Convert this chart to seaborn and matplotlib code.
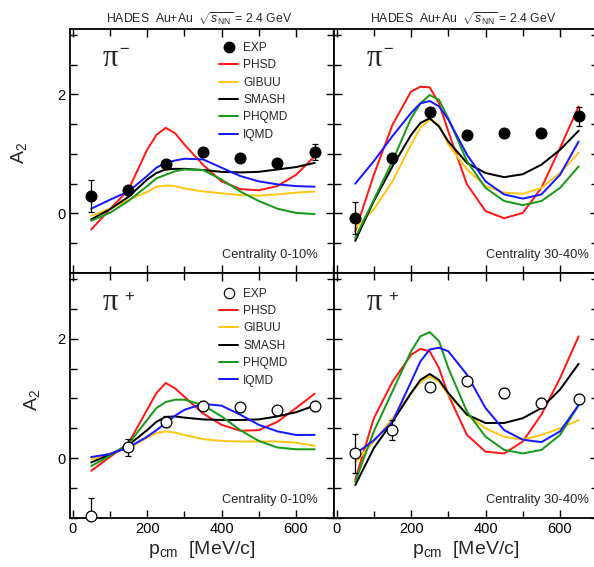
import matplotlib
matplotlib.use("Agg")
import matplotlib.pyplot as plt
from matplotlib.ticker import MultipleLocator
from matplotlib.lines import Line2D
import seaborn as sns
import pandas as pd

# ---------------- data ----------------
models = ["PHSD", "GIBUU", "SMASH", "PHQMD", "IQMD"]
colors = ["#ff1a1a", "#ffc61a", "#000000", "#1a9a1a", "#1a1aff"]

x_model = [50, 100, 150, 200, 225, 250, 275, 300, 350, 400, 450, 500, 550, 600, 650]
x_exp = [50, 150, 250, 350, 450, 550, 650]

# pi-, centrality 0-10%
pim010_PHSD = [-0.27, 0.07, 0.40, 1.07, 1.32, 1.44, 1.35, 1.16, 0.82, 0.54, 0.41, 0.39, 0.46, 0.65, 0.96]
pim010_GIBUU = [-0.04, 0.08, 0.23, 0.36, 0.45, 0.47, 0.46, 0.42, 0.37, 0.34, 0.31, 0.30, 0.32, 0.35, 0.37]
pim010_SMASH = [-0.10, 0.07, 0.28, 0.57, 0.68, 0.74, 0.75, 0.75, 0.73, 0.70, 0.69, 0.70, 0.74, 0.78, 0.85]
pim010_PHQMD = [-0.12, 0.01, 0.21, 0.46, 0.59, 0.65, 0.71, 0.74, 0.73, 0.57, 0.37, 0.21, 0.08, 0.01, -0.01]
pim010_IQMD = [0.08, 0.23, 0.37, 0.63, 0.77, 0.85, 0.89, 0.92, 0.91, 0.77, 0.63, 0.54, 0.49, 0.46, 0.45]
pim010_exp = [0.30, 0.39, 0.83, 1.03, 0.93, 0.85, 1.03]
pim010_err = [0.27, 0.07, 0.05, 0.06, 0.05, 0.05, 0.13]

# pi-, centrality 30-40%
pim3040_PHSD = [-0.30, 0.65, 1.49, 2.05, 2.13, 2.12, 1.85, 1.38, 0.49, 0.04, -0.08, 0.01, 0.43, 1.10, 1.80]
pim3040_GIBUU = [-0.24, 0.07, 0.54, 1.16, 1.44, 1.58, 1.49, 1.16, 0.74, 0.46, 0.35, 0.33, 0.43, 0.68, 1.02]
pim3040_SMASH = [-0.46, 0.21, 0.79, 1.32, 1.52, 1.60, 1.46, 1.21, 0.85, 0.68, 0.61, 0.66, 0.82, 1.07, 1.39]
pim3040_PHQMD = [-0.41, 0.23, 0.88, 1.60, 1.85, 1.99, 1.91, 1.60, 0.88, 0.43, 0.21, 0.14, 0.21, 0.43, 0.79]
pim3040_IQMD = [0.50, 0.88, 1.30, 1.69, 1.85, 1.89, 1.80, 1.58, 0.99, 0.54, 0.32, 0.25, 0.32, 0.65, 1.21]
pim3040_exp = [-0.07, 0.94, 1.70, 1.32, 1.35, 1.35, 1.63]
pim3040_err = [0.27, 0.07, 0.05, 0.06, 0.06, 0.06, 0.16]

# pi+, centrality 0-10%
pip010_PHSD = [-0.21, 0.02, 0.25, 0.81, 1.09, 1.26, 1.17, 1.03, 0.75, 0.56, 0.46, 0.47, 0.61, 0.84, 1.08]
pip010_GIBUU = [-0.02, 0.08, 0.17, 0.34, 0.42, 0.45, 0.43, 0.39, 0.32, 0.29, 0.28, 0.28, 0.28, 0.26, 0.21]
pip010_SMASH = [-0.07, 0.06, 0.22, 0.47, 0.61, 0.69, 0.70, 0.68, 0.65, 0.64, 0.64, 0.65, 0.70, 0.77, 0.88]
pip010_PHQMD = [-0.13, 0.04, 0.24, 0.64, 0.84, 0.94, 0.98, 0.98, 0.89, 0.70, 0.47, 0.29, 0.18, 0.15, 0.15]
pip010_IQMD = [0.02, 0.07, 0.18, 0.36, 0.47, 0.59, 0.71, 0.81, 0.91, 0.88, 0.73, 0.56, 0.45, 0.39, 0.39]
pip010_exp = [-0.96, 0.18, 0.61, 0.87, 0.85, 0.80, 0.87]
pip010_err = [0.29, 0.15, 0.09, 0.08, 0.08, 0.07, 0.08]

# pi+, centrality 30-40%
pip3040_PHSD = [-0.36, 0.67, 1.28, 1.73, 1.83, 1.79, 1.51, 1.06, 0.39, 0.11, 0.08, 0.28, 0.73, 1.34, 2.04]
pip3040_GIBUU = [-0.07, 0.28, 0.67, 1.09, 1.27, 1.37, 1.28, 1.06, 0.73, 0.50, 0.36, 0.31, 0.39, 0.50, 0.64]
pip3040_SMASH = [-0.45, 0.17, 0.61, 1.09, 1.31, 1.41, 1.31, 1.09, 0.73, 0.59, 0.59, 0.67, 0.84, 1.15, 1.58]
pip3040_PHQMD = [-0.39, 0.45, 1.12, 1.79, 2.04, 2.11, 1.96, 1.51, 0.78, 0.36, 0.14, 0.08, 0.14, 0.39, 0.89]
pip3040_IQMD = [0.07, 0.30, 0.61, 1.28, 1.62, 1.82, 1.85, 1.79, 1.40, 0.84, 0.47, 0.31, 0.27, 0.45, 0.89]
pip3040_exp = [0.08, 0.47, 1.20, 1.30, 1.09, 0.92, 0.99]
pip3040_err = [0.33, 0.17, 0.07, 0.08, 0.08, 0.08, 0.08]

panels = [
    dict(curves=[pim010_PHSD, pim010_GIBUU, pim010_SMASH, pim010_PHQMD, pim010_IQMD],
         exp=pim010_exp, err=pim010_err, charge="\u2212", cent="Centrality 0-10%", filled=True),
    dict(curves=[pim3040_PHSD, pim3040_GIBUU, pim3040_SMASH, pim3040_PHQMD, pim3040_IQMD],
         exp=pim3040_exp, err=pim3040_err, charge="\u2212", cent="Centrality 30-40%", filled=True),
    dict(curves=[pip010_PHSD, pip010_GIBUU, pip010_SMASH, pip010_PHQMD, pip010_IQMD],
         exp=pip010_exp, err=pip010_err, charge="+", cent="Centrality 0-10%", filled=False),
    dict(curves=[pip3040_PHSD, pip3040_GIBUU, pip3040_SMASH, pip3040_PHQMD, pip3040_IQMD],
         exp=pip3040_exp, err=pip3040_err, charge="+", cent="Centrality 30-40%", filled=False),
]

# ---------------- style ----------------
sns.set_theme(style="ticks")
plt.rcParams['font.family'] = ['Liberation Sans', 'DejaVu Sans']
plt.rcParams['mathtext.fontset'] = 'custom'
plt.rcParams['mathtext.rm'] = 'Liberation Sans'
plt.rcParams['mathtext.it'] = 'Liberation Sans:italic'
plt.rcParams['mathtext.sf'] = 'Liberation Sans'
plt.rcParams['xtick.direction'] = 'in'
plt.rcParams['ytick.direction'] = 'in'
plt.rcParams['xtick.top'] = True
plt.rcParams['ytick.right'] = True

W, H = 594, 567
fig = plt.figure(figsize=(W / 100, H / 100), dpi=100)

def fx(px):
    return px / W

def fy(py):
    return 1 - py / H

ax_w = 264
boxes = [
    (70, 29, 273), (334, 29, 273),
    (70, 273, 518), (334, 273, 518),
]

for i, (p, (l, t, b)) in enumerate(zip(panels, boxes)):
    ax = fig.add_axes([fx(l), fy(b), ax_w / W, (b - t) / H])
    for name, col, yv in zip(models, colors, p["curves"]):
        df = pd.DataFrame({"x": x_model, "y": yv})
        sns.lineplot(data=df, x="x", y="y", ax=ax, color=col, lw=1.45,
                     sort=False, estimator=None, label=name, legend=False)
    if p["filled"]:
        mk = dict(marker="o", ms=7.5, mfc="black", mec="black")
    else:
        mk = dict(marker="o", ms=7.5, mfc="white", mec="black", mew=0.8)
    ax.errorbar(x_exp, p["exp"], yerr=p["err"], fmt="none", ecolor="black",
                elinewidth=0.9, capsize=2.2, capthick=0.9, zorder=4, clip_on=True)
    df_e = pd.DataFrame({"x": x_exp, "y": p["exp"]})
    sns.scatterplot(data=df_e, x="x", y="y", ax=ax, s=60,
                    color="black" if p["filled"] else "white",
                    edgecolor="black", linewidth=0.9, zorder=5, legend=False,
                    clip_on=False)

    ax.set_xlim(-7, 702)
    ax.set_ylim(-1, 3.1)
    ax.set_xlabel("")
    ax.set_ylabel("")
    ax.xaxis.set_major_locator(MultipleLocator(200))
    ax.xaxis.set_minor_locator(MultipleLocator(100))
    ax.yaxis.set_major_locator(MultipleLocator(2))
    ax.yaxis.set_minor_locator(MultipleLocator(0.5))
    ax.tick_params(axis="both", which="both", direction="in", top=True, right=True,
                   left=True, bottom=True, width=1.0, colors="black",
                   labelsize=10.5, pad=3)
    ax.tick_params(which="major", length=5.5)
    ax.tick_params(which="minor", length=5)
    for s in ax.spines.values():
        s.set_linewidth(1.3)
        s.set_color("black")
    if i % 2 == 1:
        ax.tick_params(labelleft=False)
    if i < 2:
        ax.tick_params(labelbottom=False)
        ax.text(0.49, 1.045, r"HADES  Au+Au  $\sqrt{s_{\mathrm{NN}}}$ = 2.4 GeV",
                transform=ax.transAxes, ha="center", va="center", fontsize=8.8)
    else:
        ax.text(0.497, -0.13, r"p$_{\mathrm{cm}}$  [MeV/c]", transform=ax.transAxes,
                ha="center", va="center", fontsize=14)

    ax.text(0.577, 0.074, p["cent"], transform=ax.transAxes, ha="left",
            va="center", fontsize=9.3)
    # pi labels
    ax.text(0.122, 0.878, "\u03c0", transform=ax.transAxes, ha="left", va="center",
            fontsize=22, family=["Liberation Serif", "DejaVu Serif"])
    if p["charge"] == "+":
        ax.text(0.205, 0.906, "+", transform=ax.transAxes, ha="left", va="center",
                fontsize=12)
    else:
        ax.text(0.188, 0.918, "\u2212", transform=ax.transAxes, ha="left", va="center",
                fontsize=12)

    if i % 2 == 0:
        hs = [Line2D([], [], ls="none", **mk)]
        hs += [Line2D([], [], color=c, lw=1.45) for c in colors]
        ax.legend(hs, ["EXP"] + models, loc="upper left",
                  bbox_to_anchor=(0.565, 0.947 if i == 0 else 0.94), frameon=False,
                  fontsize=8.6, handlelength=1.6, handletextpad=0.4,
                  labelspacing=0.45, borderpad=0, borderaxespad=0)

# y labels
fig.text(fx(19), fy(153), r"A$_2$", rotation=90, ha="center", va="center", fontsize=14)
fig.text(fx(32), fy(400), r"A$_2$", rotation=90, ha="center", va="center", fontsize=14)

fig.savefig("out.png", dpi=100)
